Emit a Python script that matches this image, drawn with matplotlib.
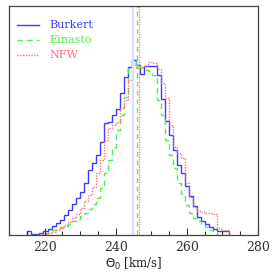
import numpy as np
import matplotlib
matplotlib.use('Agg')
import matplotlib.pyplot as plt
from matplotlib.ticker import MultipleLocator

# histogram bins (km/s)
bin_start = 215.15
bin_width = 1.135
n_bins = 50

burkert = [4, 1, 1.5, 2.5, 4, 6, 9, 12, 15, 20,
           25, 31, 37, 43, 52, 65, 72, 80, 93, 112,
           113, 120, 126, 142, 158, 168, 175, 170, 161, 169,
           169, 169, 160, 136, 114, 100, 85, 70, 62, 49,
           39, 29, 18, 14, 11, 8, 6, 4, 4, 4]
einasto = [0, 0, 0, 0, 2, 3, 5, 6, 8, 9,
           11, 14, 16, 19, 22, 26, 31, 37, 47, 62,
           75, 88, 105, 120, 138, 167, 174, 169, 167, 165,
           164, 160, 135, 120, 95, 80, 67, 52, 41, 30,
           22, 17, 14, 11, 8, 5, 3, 0, 0, 0]
nfw = [0, 0, 0, 0, 1, 2, 3, 5, 7, 10,
       13, 17, 21, 27, 34, 40, 48, 62, 75, 95,
       107, 110, 113, 127, 135, 155, 170, 167, 168, 169,
       173, 172, 166, 152, 137, 110, 88, 82, 77, 52,
       38, 28, 24, 23, 22, 22, 21, 7, 5, 5]

# median values (vertical lines)
med_burkert = 245.0
med_einasto = 245.9
med_nfw = 246.6

c_blue = '#3c3cff'
c_green = '#4dee4d'
c_red = '#ff7070'

edges = bin_start + bin_width * np.arange(n_bins + 1)

fig = plt.figure(figsize=(2.73, 2.73), dpi=100)
ax = fig.add_axes([0.033, 0.139, 0.912, 0.839])

ax.axvline(med_burkert, color='#dcdcff', lw=1.6)
ax.axvline(med_einasto, color=c_green, lw=0.9, ls=(0, (4, 3)))
ax.axvline(med_nfw, color=c_red, lw=0.9, ls=(0, (1, 1)))

ax.stairs(burkert, edges, color=c_blue, lw=1.0, label='Burkert')
ax.stairs(einasto, edges, color=c_green, lw=1.0, ls=(0, (4, 3)), label='Einasto')
ax.stairs(nfw, edges, color=c_red, lw=1.0, ls=(0, (1, 1)), label='NFW')

ax.set_xlim(210, 280)
ax.set_ylim(0, 229)

ax.xaxis.set_major_locator(MultipleLocator(20))
ax.xaxis.set_minor_locator(MultipleLocator(5))
ax.tick_params(axis='x', which='major', direction='in', length=5, width=0.8,
               colors='#333333', labelsize=9, pad=4)
ax.tick_params(axis='x', which='minor', direction='in', length=3, width=0.8,
               colors='#333333')
ax.set_yticks([])
for lab in ax.get_xticklabels():
    lab.set_family('DejaVu Serif')

for s in ax.spines.values():
    s.set_color('#444444')
    s.set_linewidth(0.9)

ax.set_xlabel(r'$\Theta_0$ [km/s]', fontsize=8.5, family='DejaVu Serif',
              color='#222222', labelpad=2)

leg = ax.legend(loc='upper left', bbox_to_anchor=(-0.025, 1.0), frameon=False,
                handlelength=2.0, handletextpad=0.9, labelspacing=0.45,
                borderaxespad=0.9, borderpad=0.4, labelcolor='linecolor',
                prop={'family': 'DejaVu Serif', 'size': 8})

fig.savefig('out.png', dpi=100)
